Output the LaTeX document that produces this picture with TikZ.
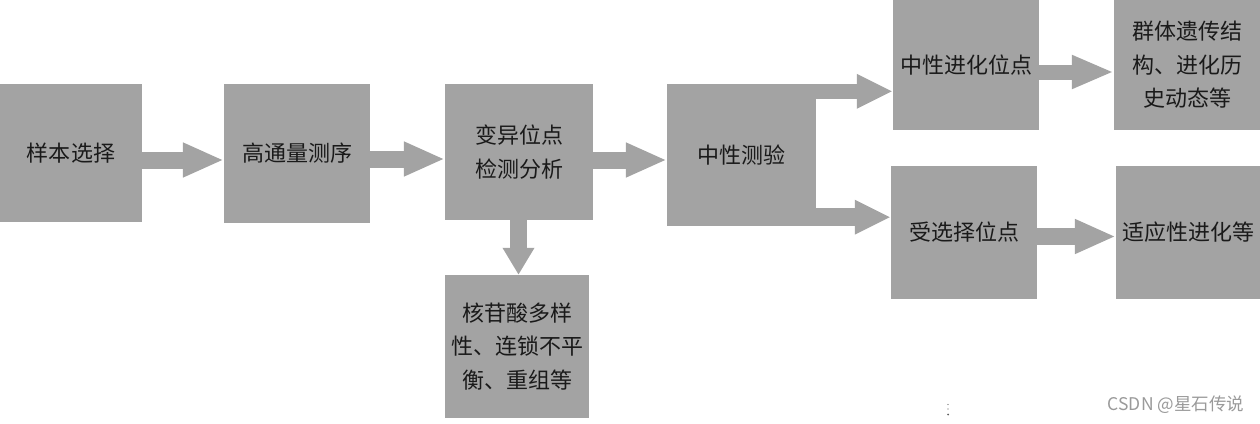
\documentclass[tikz,border=0pt]{standalone}
\usepackage{fontspec}
\newfontfamily\cjk{Noto Sans CJK SC}
\usetikzlibrary{arrows.meta}
\definecolor{boxgray}{HTML}{A3A3A3}
\definecolor{txt}{HTML}{1A1A1A}
\definecolor{mark}{HTML}{9A9A9A}
\begin{document}
\begin{tikzpicture}[x=1pt,y=-1pt,
  box/.style={fill=boxgray, draw=none, inner sep=0pt, text=txt, align=center,
    font=\cjk\fontsize{22}{33.5}\selectfont},
  barrow/.style={draw=boxgray, line width=17pt, line cap=butt,
    -{Triangle[length=41pt,width=32pt]}},
]
\useasboundingbox (0,0) rectangle (1260,423);
\fill[white] (0,0) rectangle (1260,423);
% boxes
\node[box, minimum width=142pt, minimum height=138pt] (a) at (71,153) {样本选择};
\node[box, minimum width=146pt, minimum height=139pt] (b) at (297,153.5) {高通量测序};
\node[box, minimum width=148pt, minimum height=136pt] (c) at (519,152) {变异位点\\检测分析};
\node[box, minimum width=149pt, minimum height=142pt] (d) at (741.5,155) {中性测验};
\node[box, minimum width=146pt, minimum height=130pt] (e) at (966,65) {中性进化位点};
\node[box, minimum width=146pt, minimum height=130pt] (f) at (1187,65) {群体遗传结\\构、进化历\\史动态等};
\node[box, minimum width=146pt, minimum height=133pt] (g) at (964,232.5) {受选择位点};
\node[box, minimum width=144pt, minimum height=133pt] (h) at (1188,232.5) {适应性进化等};
\node[box, minimum width=144pt, minimum height=143pt] (i) at (517,346.5) {核苷酸多样\\性、连锁不平\\衡、重组等};
% arrows
\draw[barrow] ([yshift=-7pt]a.east) -- ([yshift=-7pt]a.east -| b.west);
\draw[barrow] ([yshift=-5.5pt]b.east) -- ([yshift=-5.5pt]b.east -| c.west);
\draw[barrow] ([yshift=-8pt]c.east) -- ([yshift=-8pt]c.east -| d.west);
\draw[barrow, line width=15pt, -{Triangle[length=36pt,width=32pt]}]
  ([yshift=-7.5pt]d.north east) -- ([yshift=-7.5pt]d.north east -| e.west);
\draw[barrow, line width=18pt, -{Triangle[length=36pt,width=32pt]}]
  ([yshift=9pt]d.south east) -- ([yshift=9pt]d.south east -| g.west);
\draw[barrow, line width=15pt, -{Triangle[length=42pt,width=31pt]}]
  ([yshift=-7pt]e.east) -- ([yshift=-7pt]e.east -| f.west);
\draw[barrow] ([yshift=-4pt]g.east) -- ([yshift=-4pt]g.east -| h.west);
\draw[barrow, -{Triangle[length=27pt,width=30pt]}]
  ([xshift=-0.5pt]c.south) -- ([xshift=-0.5pt]c.south |- i.north);
% watermark
\node[text=mark, font=\cjk\fontsize{17.5}{20}\selectfont, inner sep=0pt] (wm) at (1176,405) {CSDN @星石传说};
\fill[txt!70] (948,404.5) circle (0.7) (948,409) circle (0.7) (948,414.5) circle (1);
\end{tikzpicture}
\end{document}
